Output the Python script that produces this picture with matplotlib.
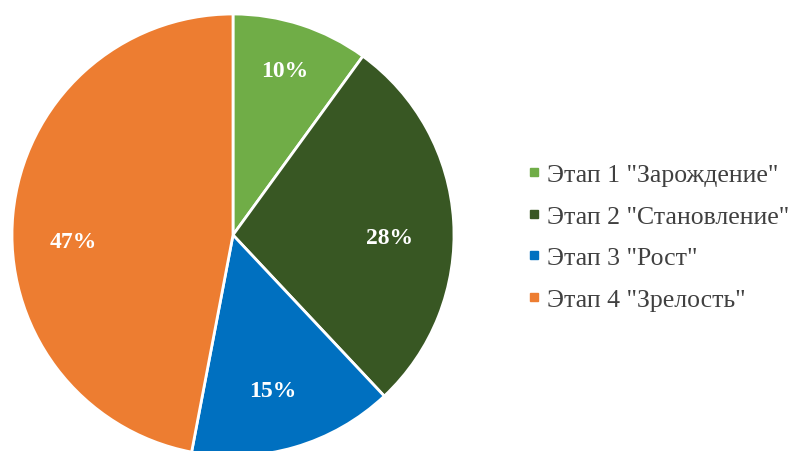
import matplotlib
matplotlib.use("Agg")
import matplotlib.pyplot as plt
from matplotlib.lines import Line2D

labels = ['Этап 1 "Зарождение"', 'Этап 2 "Становление"', 'Этап 3 "Рост"', 'Этап 4 "Зрелость"']
values = [10, 28, 15, 47]
colors = ['#70AD47', '#385723', '#0070C0', '#ED7D31']
# label placements (fraction of radius), as in the reference
label_pos = [(0.235, 0.745), (0.710, -0.01), (0.181, -0.705), (-0.724, -0.03)]

plt.rcParams['font.family'] = ['Liberation Serif', 'DejaVu Serif']

fig = plt.figure(figsize=(7.92, 4.52), dpi=100)
W, H = 792, 452
cx, cy, r = 233, 236, 221
ax = fig.add_axes([(cx - r) / W, (H - cy - r) / H, 2 * r / W, 2 * r / H])
wedges, texts, autotexts = ax.pie(values, colors=colors, startangle=90, counterclock=False,
                                  autopct='%1.0f%%', pctdistance=0.72,
                                  wedgeprops=dict(edgecolor='white', linewidth=2),
                                  textprops=dict(color='white', fontsize=17, fontweight='bold'))
for t, p in zip(autotexts, label_pos):
    t.set_position(p)
ax.set_xlim(-1, 1)
ax.set_ylim(-1, 1)
ax.set_aspect('equal')
ax.axis('off')

handles = [Line2D([0], [0], marker='s', linestyle='', markersize=6, markerfacecolor=c,
                  markeredgecolor=c) for c in colors]
fig.legend(handles, labels, loc='center left', bbox_to_anchor=(503 / W, 1 - 238 / H),
           frameon=False, fontsize=18.5, handlelength=0.6, handletextpad=0.2,
           labelspacing=0.72, labelcolor='#404040')

fig.savefig('out.png', dpi=100)
